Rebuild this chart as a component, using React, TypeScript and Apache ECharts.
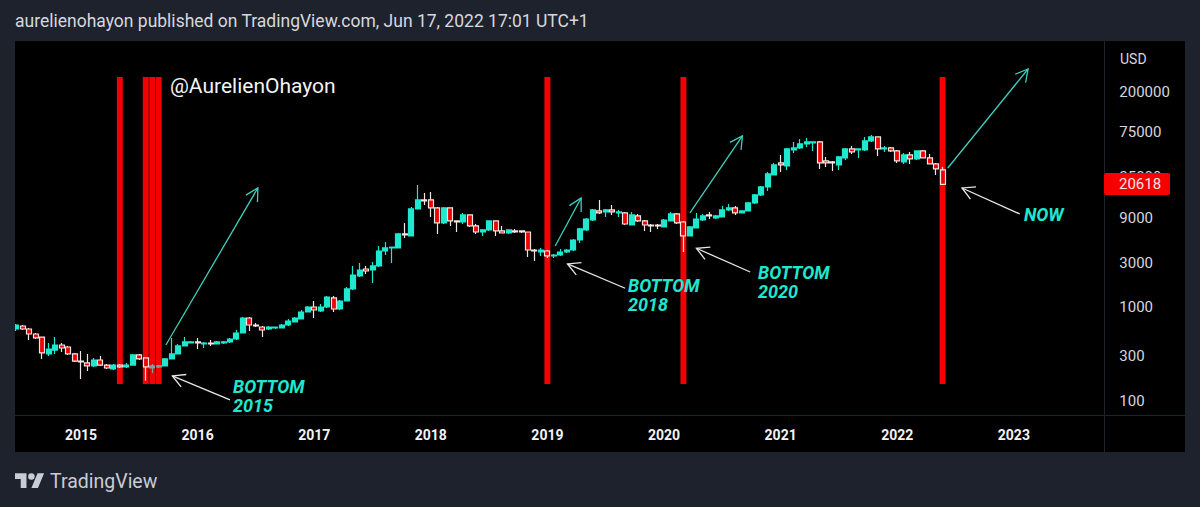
import React, { useEffect, useRef } from "react";
import * as echarts from "echarts";

// Candles, oldest first (USD)
const opens = [587,632,587,519,482,318,350,396,377,318,267,255,237,274,242,220,242,231,242,310,288,225,231,237,281,318,387,416,427,406,416,406,416,427,459,532,770,648,617,587,602,602,648,698,751,892,1009,915,1009,1260,961,1170,1572,2164,2571,2508,2768,4003,4310,4310,6082,5790,11250,14039,14039,11530,7972,11530,8374,8170,9706,7405,6388,6711,8374,6548,6233,6548,6548,6388,4103,3906,4003,3540,3628,3906,4103,5247,6711,8582,10710,10450,10977,10196,10196,7589,9470,8374,7589,7589,7225,8374,9948,8170,5790,7049,8582,9706,9015,9240,10977,11530,10196,10710,13040,15877,19331,25970,34890,32408,48039,50462,55680,57067,58488,36650,35759,33215,39457,49236,48039,48039,59945,66144,49236,50462,46872,35759,42479,38498,46872,39457,34042,29370];
const closes = [648,587,519,471,326,359,396,368,318,267,261,237,274,242,225,242,231,242,310,281,231,237,237,281,318,387,427,427,416,416,406,427,427,459,532,770,648,632,573,617,617,648,715,770,892,1009,937,1009,1291,961,1170,1572,2218,2508,2447,2768,4003,4310,4417,6082,5934,11250,14039,13698,11530,7972,11530,8374,8170,9706,7405,6388,6711,8374,6548,6233,6711,6388,6388,4103,4003,4103,3540,3628,3906,4103,5247,6878,8796,10977,10196,10977,10450,10450,7778,9706,8374,7589,7405,7405,8582,9948,7972,5790,7225,8796,9470,9470,9470,10977,11530,10196,10710,13040,15877,19331,26617,33215,33215,49236,50462,55680,58488,58488,34890,34890,34890,40440,49236,45733,49236,59945,66144,49236,50462,46872,36650,42479,38498,46872,39457,34042,30102,20618];
const lows = [559,573,448,459,281,302,318,334,310,261,172,209,231,237,220,214,225,225,242,274,164,199,225,237,281,318,387,416,359,368,387,406,406,416,448,532,559,617,482,573,587,602,632,698,751,892,770,892,985,892,937,1170,1533,2111,2273,1822,2700,3628,2980,4310,5512,5790,11250,12414,9240,6082,7778,7405,6388,7778,7225,6082,5790,6548,5790,6233,6082,6233,6233,3454,3130,3540,3370,3370,3540,3811,4003,4874,6548,8374,9948,9240,9706,9240,7589,7589,8170,6548,6388,6878,7225,8374,7778,3906,5790,7049,8374,8796,8796,9240,10710,9706,10196,10710,12723,15491,17519,25970,27960,29370,44622,49236,51719,46872,30102,31620,28656,29370,37563,43537,39457,46872,58488,41447,45733,45733,34890,34042,34042,37563,39457,34042,25970,20306];
const highs = [664,648,602,532,482,416,482,416,387,326,342,318,288,302,248,248,248,255,318,318,288,248,242,288,471,406,482,437,471,427,448,437,437,471,573,789,789,681,632,632,617,664,751,789,937,1034,1170,1087,1323,1323,1199,1651,2768,2980,2768,3054,4527,4995,4417,6233,7972,11818,20306,16678,17093,11818,11818,11530,8374,10196,9706,7778,6878,8374,8374,7405,6711,6878,6548,6388,4205,4310,4103,3718,4205,4205,5378,7049,9015,11250,14039,11250,12414,10977,10450,10450,9948,8582,7778,7778,8796,10450,10196,8374,7405,10196,9948,10450,9706,12112,12723,12112,10710,13365,16272,19812,27960,34890,42479,50462,58488,62968,64536,58488,59945,40440,36650,41447,50462,53007,49236,66144,69479,66144,53007,51719,48039,44622,45733,46872,48039,43537,34890,31620];

// Candles that sit dimmed behind the drawn bars
const dimmedCandles = [21, 22];

const slotCount = 168;
const yearLabels = ["2015", "2016", "2017", "2018", "2019", "2020", "2021", "2022", "2023"];
const yearSlots = [10, 28, 46, 64, 82, 100, 118, 136, 154];
const priceTicks = [100, 300, 1000, 3000, 9000, 25000, 75000, 200000];
const lastPrice = 20618;

// [candle slot, top price, bottom price]
const redBars = [
  [16, 289400, 152],
  [20, 289400, 152],
  [21, 289400, 152],
  [22, 289400, 152],
  [82, 289400, 152],
  [103, 289400, 152],
  [143, 289400, 152],
];
// [from slot, from price, to slot, to price]
const tealArrows = [
  [23.1, 396, 37.3, 18860],
  [83.2, 4529, 87.2, 14750],
  [104, 10200, 112.1, 67800],
  [143.8, 30850, 156.2, 352400],
];
const whiteArrows = [
  [33, 102.5, 24.1, 185],
  [94, 1600, 85.1, 2909],
  [113.3, 2388, 105, 4278],
  [154.9, 9954, 146, 18860],
];

const BG = "#1e222d";
const TEAL = "#1fe8cf";
const TEXT = "#d6d8df";

const categories = Array.from({ length: slotCount }, (_, i) => {
  const at = yearSlots.indexOf(i);
  return at >= 0 ? yearLabels[at] : "s" + i;
});

echarts.graphic.registerShape(
  "tvLogo",
  echarts.graphic.extendPath(
    "M14 22H7V11H0V4h14v18zM28 22h-8l7.5-18h8L28 22zM20 4a4 4 0 1 1 0 8 4 4 0 0 1 0-8z",
    {}
  ) as any
);

const renderRedBar = (_: any, api: any) => {
  const [x, top] = api.coord([api.value(0), api.value(1)]);
  const [, bottom] = api.coord([api.value(0), api.value(2)]);
  return {
    type: "rect",
    shape: { x: x - 3, y: top, width: 5.9, height: bottom - top },
    style: { fill: "#f50000" },
  };
};

const makeArrowRenderer = (color: string) => (_: any, api: any) => {
  const [x0, y0] = api.coord([api.value(0), api.value(1)]);
  const [x1, y1] = api.coord([api.value(2), api.value(3)]);
  const angle = Math.atan2(y1 - y0, x1 - x0);
  const head = 14;
  const spread = 0.5;
  const lineStyle = { stroke: color, lineWidth: 1.3, fill: "none" };
  return {
    type: "group",
    children: [
      { type: "line", shape: { x1: x0, y1: y0, x2: x1, y2: y1 }, style: lineStyle },
      {
        type: "polyline",
        shape: {
          points: [
            [x1 - head * Math.cos(angle - spread), y1 - head * Math.sin(angle - spread)],
            [x1, y1],
            [x1 - head * Math.cos(angle + spread), y1 - head * Math.sin(angle + spread)],
          ],
        },
        style: lineStyle,
      },
    ],
  };
};

const noteText = (text: string, x: number, y: number) => ({
  type: "text",
  x,
  y,
  z: 20,
  style: {
    text,
    fill: TEAL,
    fontFamily: "Roboto",
    fontSize: 18,
    fontWeight: "bold",
    fontStyle: "italic",
    lineHeight: 19.2,
  },
});

const App: React.FC = () => {
  const chartRef = useRef<HTMLDivElement>(null);

  useEffect(() => {
    if (!chartRef.current) return;
    document.body.style.margin = "0";

    const chart = echarts.init(chartRef.current, undefined, { renderer: "svg" });

    const candles = opens.map((open, i) => {
      const value = [open, closes[i], lows[i], highs[i]];
      if (!dimmedCandles.includes(i)) return value;
      return {
        value,
        itemStyle: { color: "#8a9a98", borderColor: "#8a9a98", color0: "#8a9a98", borderColor0: "#8a9a98" },
      };
    });

    const option: echarts.EChartsOption = {
      animation: false,
      backgroundColor: BG,
      grid: { left: 13, top: 41, width: 1088.3, height: 374 },
      xAxis: [
        {
          type: "category",
          data: categories,
          axisLine: { show: false },
          axisTick: { show: false },
          splitLine: { show: false },
          axisLabel: {
            interval: (i: number) => yearSlots.includes(i),
            margin: 13,
            color: "#f2f3f5",
            fontFamily: "Roboto",
            fontSize: 14,
            fontWeight: "bold",
          },
        },
        { type: "value", show: false, min: -0.5, max: slotCount - 0.5 },
      ],
      yAxis: {
        type: "log",
        position: "right",
        min: 70.8,
        max: 701000,
        axisLine: { show: false },
        axisTick: { show: false },
        splitLine: { show: false },
        axisLabel: {
          customValues: priceTicks,
          formatter: (v: number) => String(Math.round(v)),
          align: "left",
          margin: 18,
          color: TEXT,
          fontFamily: "Roboto",
          fontSize: 15,
        },
      } as any,
      series: [
        {
          type: "custom",
          name: "Marked periods",
          xAxisIndex: 1,
          z: 1,
          data: redBars,
          encode: { x: 0, y: [1, 2] },
          renderItem: renderRedBar,
        },
        {
          type: "candlestick",
          name: "BTCUSD",
          xAxisIndex: 0,
          z: 3,
          barWidth: 5.5,
          data: candles,
          itemStyle: {
            color: TEAL,
            borderColor: TEAL,
            color0: "#f00000",
            borderColor0: "#f4e4e4",
            borderWidth: 1.2,
          },
        },
        {
          type: "custom",
          name: "Teal arrows",
          xAxisIndex: 1,
          z: 4,
          data: tealArrows,
          encode: { x: [0, 2], y: [1, 3] },
          renderItem: makeArrowRenderer("#3fd0bc"),
        },
        {
          type: "custom",
          name: "White arrows",
          xAxisIndex: 1,
          z: 4,
          data: whiteArrows,
          encode: { x: [0, 2], y: [1, 3] },
          renderItem: makeArrowRenderer("#e8e8e8"),
        },
      ] as any,
      graphic: [
        // black plot area and the frame round it
        { type: "rect", z: -1, shape: { x: 15, y: 41, width: 1170, height: 411 }, style: { fill: "#000000" } },
        { type: "rect", z: 10, shape: { x: 0, y: 41, width: 15, height: 411 }, style: { fill: BG } },
        { type: "line", z: 10, shape: { x1: 15, y1: 415.5, x2: 1185, y2: 415.5 }, style: { stroke: BG, lineWidth: 1 } },
        { type: "line", z: 10, shape: { x1: 1104.5, y1: 41, x2: 1104.5, y2: 452 }, style: { stroke: BG, lineWidth: 1 } },
        {
          type: "text",
          x: 15,
          y: 12,
          z: 20,
          style: {
            text: "aurelienohayon published on TradingView.com, Jun 17, 2022 17:01 UTC+1",
            fill: TEXT,
            fontFamily: "Roboto",
            fontSize: 17.5,
          },
        },
        {
          type: "text",
          x: 170,
          y: 75.5,
          z: 20,
          style: { text: "@AurelienOhayon", fill: "#f4f4f4", fontFamily: "Roboto", fontSize: 21 },
        },
        noteText("BOTTOM\n2015", 233, 377),
        noteText("BOTTOM\n2018", 628, 276),
        noteText("BOTTOM\n2020", 758, 263),
        noteText("NOW", 1024, 205),
        {
          type: "text",
          x: 1120,
          y: 52,
          z: 20,
          style: { text: "USD", fill: TEXT, fontFamily: "Roboto", fontSize: 14 },
        },
        {
          type: "rect",
          z: 15,
          shape: { x: 1104, y: 173, width: 66, height: 22, r: 2 },
          style: { fill: "#f70000" },
        },
        {
          type: "text",
          x: 1119,
          y: 176,
          z: 20,
          style: { text: String(lastPrice), fill: "#f8e6e6", fontFamily: "Roboto", fontSize: 15 },
        },
        {
          type: "tvLogo",
          x: 15,
          y: 470,
          scaleX: 0.82,
          scaleY: 0.82,
          z: 20,
          style: { fill: "#c9ccd4" },
        },
        {
          type: "text",
          x: 50,
          y: 471,
          z: 20,
          style: { text: "TradingView", fill: "#c9ccd4", fontFamily: "Roboto", fontSize: 19.5 },
        },
      ] as any,
    };

    chart.setOption(option);

    return () => {
      chart.dispose();
    };
  }, []);

  return (
    <div
      ref={chartRef}
      style={{ position: "absolute", left: 0, top: 0, width: "1200px", height: "507px" }}
    />
  );
};

export default App;
